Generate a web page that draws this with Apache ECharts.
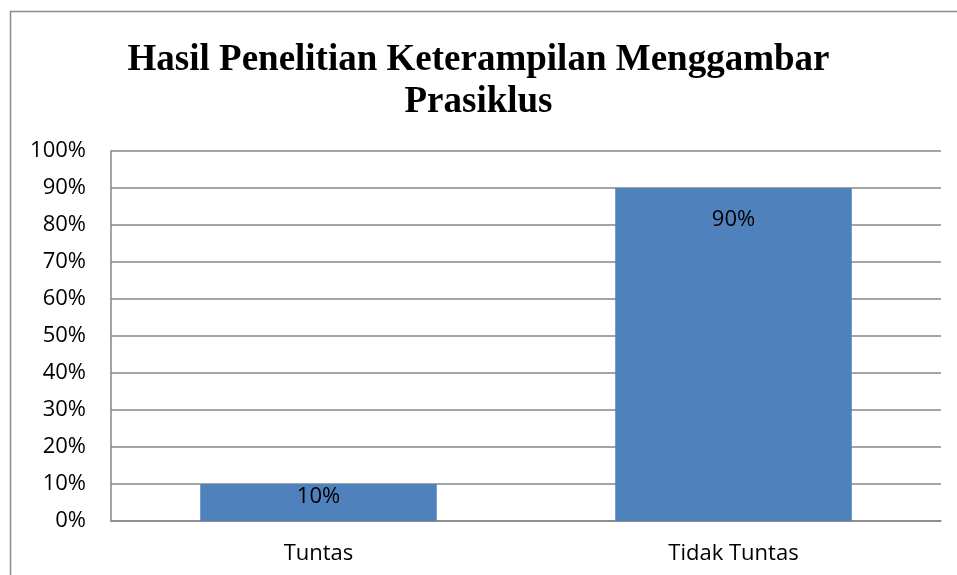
<!DOCTYPE html>
<html>
<head>
<meta charset="utf-8">
<script src="https://cdn.jsdelivr.net/npm/echarts@6/dist/echarts.min.js"></script>
<style>
html,body{margin:0;padding:0;background:#fff;}
#chart{width:957px;height:575px;}
</style>
</head>
<body>
<div id="chart"></div>
<script>
var titleText = 'Hasil Penelitian Keterampilan Menggambar\nPrasiklus';
var categories = ['Tuntas', 'Tidak Tuntas'];
var values = [10, 90];
var yTicks = [0, 10, 20, 30, 40, 50, 60, 70, 80, 90, 100];

var chart = echarts.init(document.getElementById('chart'), null, {renderer: 'canvas'});
var labelFont = '"Open Sans", sans-serif';
chart.setOption({
  animation: false,
  backgroundColor: '#fff',
  graphic: [{
    type: 'rect',
    shape: {x: 10.5, y: 11.5, width: 1200, height: 800},
    style: {fill: 'none', stroke: '#8c8c8c', lineWidth: 1.5},
    silent: true
  }],
  title: {
    text: titleText,
    left: 'center',
    top: 34,
    textStyle: {
      fontFamily: '"Liberation Serif", "Times New Roman", serif',
      fontWeight: 'bold',
      fontSize: 37,
      lineHeight: 42,
      color: '#000'
    }
  },
  grid: {left: 111, right: 16, top: 151, bottom: 54, containLabel: false},
  xAxis: {
    type: 'category',
    data: categories,
    axisLine: {show: true, lineStyle: {color: '#868686', width: 1.5}},
    axisTick: {show: false},
    axisLabel: {fontFamily: labelFont, fontSize: 22, color: '#000', margin: 22}
  },
  yAxis: {
    type: 'value',
    min: yTicks[0],
    max: yTicks[yTicks.length - 1],
    interval: 10,
    axisLine: {show: true, lineStyle: {color: '#868686', width: 1.5}},
    axisTick: {show: false},
    splitLine: {show: true, lineStyle: {color: '#868686', width: 1.5}},
    axisLabel: {
      fontFamily: labelFont, fontSize: 22, color: '#000', margin: 25,
      formatter: function (v) { return v + '%'; }
    }
  },
  series: [{
    type: 'bar',
    data: values.map(function (v, i) {
      return {
        value: v,
        label: i === 0 ? {position: 'insideTop', distance: 2} : {position: 'insideTop', distance: 21}
      };
    }),
    barWidth: '57%',
    itemStyle: {color: '#4F81BD'},
    label: {
      show: true,
      fontFamily: labelFont,
      fontSize: 22,
      color: '#000',
      formatter: function (p) { return p.value + '%'; }
    }
  }]
});
</script>
</body>
</html>
